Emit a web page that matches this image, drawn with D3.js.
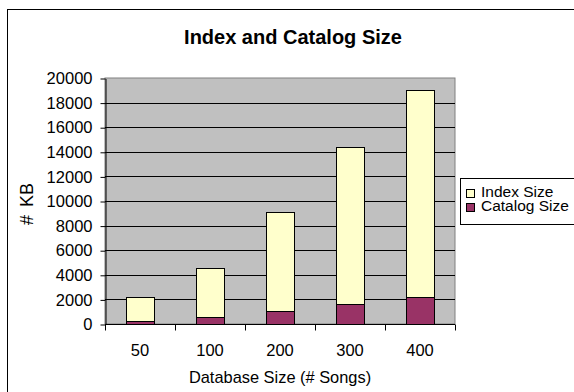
<!DOCTYPE html>
<html lang="en">
<head>
	<meta charset="utf-8">
	<title>Index and Catalog Size</title>
	<script src="https://cdn.jsdelivr.net/npm/d3@7"></script>
	<style>
		body { margin: 0; background: #fff; }
		text { font-family: "Liberation Sans", Arial, sans-serif; fill: #000; }
	</style>
</head>
<body>
	<script>
		// data
		const categories = ["50", "100", "200", "300", "400"];
		const catalogSize = [220, 540, 1030, 1650, 2200];
		const indexSize = [1980, 4010, 8070, 12750, 16800];
		const yTicks = [0, 2000, 4000, 6000, 8000, 10000, 12000, 14000, 16000, 18000, 20000];
		const seriesNames = ["Catalog Size", "Index Size"];
		const seriesColors = { "Index Size": "#ffffcc", "Catalog Size": "#993366" };

		const w = 574, h = 392;
		const plot = { left: 105, right: 455, top: 78, bottom: 324 };

		const rows = categories.map((c, i) => ({
			cat: c,
			"Catalog Size": catalogSize[i],
			"Index Size": indexSize[i]
		}));

		const svg = d3.select("body").append("svg")
			.attr("width", w)
			.attr("height", h);

		// outer chart border (runs off the right/bottom edge)
		svg.append("rect")
			.attr("x", 7.5).attr("y", 9.5)
			.attr("width", 600).attr("height", 420)
			.attr("fill", "#fff")
			.attr("stroke", "#000");

		const x = d3.scaleBand()
			.domain(categories)
			.range([plot.left, plot.right])
			.paddingInner(0.6)
			.paddingOuter(0.3);

		const y = d3.scaleLinear()
			.domain([0, 20000])
			.range([plot.bottom, plot.top]);

		// plot area
		svg.append("rect")
			.attr("x", plot.left).attr("y", plot.top)
			.attr("width", plot.right - plot.left)
			.attr("height", plot.bottom - plot.top)
			.attr("fill", "#c0c0c0")
			.attr("stroke", "#808080");

		// gridlines
		svg.append("g")
			.selectAll("line")
			.data(yTicks.slice(1, -1))
			.enter().append("line")
			.attr("x1", plot.left).attr("x2", plot.right)
			.attr("y1", d => Math.round(y(d)) + 0.5)
			.attr("y2", d => Math.round(y(d)) + 0.5)
			.attr("stroke", "#000");

		// bars
		const stack = d3.stack().keys(seriesNames)(rows);
		svg.append("g")
			.selectAll("g")
			.data(stack)
			.enter().append("g")
			.attr("fill", d => seriesColors[d.key])
			.selectAll("rect")
			.data(d => d)
			.enter().append("rect")
			.attr("x", d => Math.round(x(d.data.cat)) + 0.5)
			.attr("y", d => Math.round(y(d[1])) + 0.5)
			.attr("width", x.bandwidth())
			.attr("height", d => Math.round(y(d[0])) - Math.round(y(d[1])))
			.attr("stroke", "#000")
			.attr("stroke-width", 1);

		// y axis
		const yAxis = svg.append("g")
			.attr("transform", `translate(${plot.left + 0.5},0.5)`)
			.call(d3.axisLeft(y).tickValues(yTicks).tickFormat(d3.format("d"))
				.tickSize(5).tickPadding(8).tickSizeOuter(0));
		yAxis.selectAll("text")
			.attr("font-size", "16.5px")
			.attr("font-family", null);
		yAxis.selectAll("line, path").attr("stroke", "#000");

		// x axis with tick marks between categories
		const xAxis = svg.append("g")
			.attr("transform", `translate(0,${plot.bottom + 0.5})`);
		xAxis.append("line")
			.attr("x1", plot.left).attr("x2", plot.right)
			.attr("stroke", "#000");
		const step = x.step();
		const bounds = categories.map(c => x(c) + x.bandwidth() / 2 - step / 2)
			.concat([x(categories[categories.length - 1]) + x.bandwidth() / 2 + step / 2]);
		xAxis.selectAll(".tk")
			.data(bounds)
			.enter().append("line")
			.attr("class", "tk")
			.attr("x1", d => Math.round(d) + 0.5).attr("x2", d => Math.round(d) + 0.5)
			.attr("y1", 0).attr("y2", 6)
			.attr("stroke", "#000");
		xAxis.selectAll(".lbl")
			.data(categories)
			.enter().append("text")
			.attr("class", "lbl")
			.attr("x", d => x(d) + x.bandwidth() / 2)
			.attr("y", 31.5)
			.attr("text-anchor", "middle")
			.attr("font-size", "16.5px")
			.text(d => d);

		// titles
		svg.append("text")
			.attr("x", 293).attr("y", 44)
			.attr("text-anchor", "middle")
			.attr("font-size", "20px")
			.attr("font-weight", "bold")
			.text("Index and Catalog Size");

		svg.append("text")
			.attr("x", 280).attr("y", 383)
			.attr("text-anchor", "middle")
			.attr("font-size", "16.4px")
			.text("Database Size (# Songs)");

		svg.append("text")
			.attr("transform", "translate(33,204) rotate(-90)")
			.attr("text-anchor", "middle")
			.attr("font-size", "18px")
			.attr("word-spacing", "3px")
			.text("# KB");

		// legend
		const legend = svg.append("g");
		legend.append("rect")
			.attr("x", 460.5).attr("y", 178.5)
			.attr("width", 140).attr("height", 46)
			.attr("fill", "#fff")
			.attr("stroke", "#000");
		const legendItems = ["Index Size", "Catalog Size"];
		const li = legend.selectAll(".li")
			.data(legendItems)
			.enter().append("g")
			.attr("class", "li")
			.attr("transform", (d, i) => `translate(466,${189 + i * 14})`);
		li.append("rect")
			.attr("x", 0.5).attr("y", 0.5)
			.attr("width", 8).attr("height", 8)
			.attr("fill", d => seriesColors[d])
			.attr("stroke", "#000");
		li.append("text")
			.attr("x", 15).attr("y", 8)
			.attr("font-size", "15.5px")
			.text(d => d);
	</script>
</body>
</html>
